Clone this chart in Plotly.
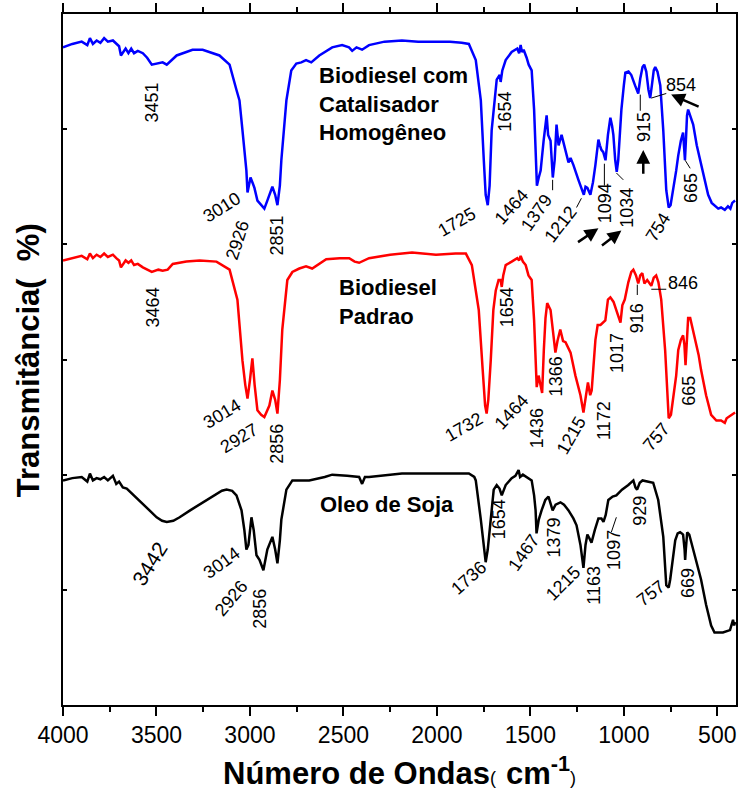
import plotly.graph_objects as go

# ---------------- data (wavenumber cm-1, transmittance in arbitrary offset units) ----------------
blue_x = [4000, 3950, 3900, 3870, 3856, 3840, 3820, 3800, 3780, 3760, 3733, 3715, 3700, 3690, 3680, 3665, 3650, 3635, 3620, 3600, 3573, 3550,
          3525, 3490, 3467, 3445, 3420, 3392, 3307, 3253, 3163, 3109, 3072, 3056, 3040, 3019, 3013, 3005, 2997,
          2985, 2976, 2960, 2940, 2923, 2907, 2880, 2865, 2853, 2840, 2832, 2805, 2779, 2752, 2725, 2700,
          2672, 2629, 2560, 2507, 2470, 2453, 2430, 2400, 2363, 2280, 2187, 2100, 2005, 1930, 1867, 1829,
          1792, 1765, 1749, 1739, 1728, 1718, 1707, 1690, 1680, 1664, 1659, 1650, 1632, 1600, 1570, 1560, 1552,
          1545, 1536, 1520, 1509, 1493, 1480, 1472, 1465, 1455, 1445, 1429, 1418, 1413, 1405, 1392, 1380,
          1370, 1360, 1349, 1333, 1320, 1312, 1296, 1285, 1270, 1243, 1225, 1214, 1205, 1195, 1179, 1165,
          1152, 1136, 1128, 1120, 1110, 1098, 1085, 1072, 1063, 1056, 1046, 1038, 1030, 1013, 1000, 992,
          975, 960, 940, 923, 912, 900, 891, 880, 868, 859, 850, 840, 832, 820, 805, 789, 773, 760, 750,
          736, 720, 709, 695, 683, 678, 673, 668, 662, 656, 645, 629, 610, 587, 565, 549, 530, 512, 495, 480,
          460, 443, 430, 420, 405]
blue_y = [5.71, 5.74, 5.76, 5.73, 5.79, 5.74, 5.77, 5.75, 5.79, 5.76, 5.77, 5.74, 5.72, 5.64, 5.66, 5.70, 5.66, 5.70, 5.66, 5.68, 5.66, 5.62,
          5.56, 5.57, 5.58, 5.56, 5.60, 5.64, 5.69, 5.69, 5.64, 5.56, 5.34, 5.25, 4.99, 4.64, 4.45, 4.51, 4.58,
          4.53, 4.49, 4.38, 4.34, 4.31, 4.38, 4.50, 4.43, 4.34, 4.51, 4.73, 5.25, 5.51, 5.57, 5.58, 5.60,
          5.58, 5.64, 5.71, 5.73, 5.71, 5.68, 5.71, 5.69, 5.73, 5.76, 5.77, 5.76, 5.76, 5.76, 5.75, 5.74,
          5.60, 5.25, 4.73, 4.43, 4.34, 4.51, 4.99, 5.29, 5.43, 5.47, 5.41, 5.51, 5.60, 5.67, 5.70, 5.66, 5.73,
          5.67, 5.69, 5.62, 5.56, 5.51, 5.17, 4.82, 4.51, 4.58, 4.64, 4.90, 5.09, 5.12, 4.95, 4.90, 4.58,
          4.73, 5.04, 4.86, 4.95, 4.86, 4.82, 4.71, 4.75, 4.69, 4.56, 4.47, 4.43, 4.50, 4.49, 4.43, 4.54,
          4.69, 4.91, 4.86, 4.82, 4.80, 4.73, 4.95, 5.10, 5.03, 4.95, 4.73, 4.63, 4.73, 5.17, 5.38, 5.49,
          5.50, 5.47, 5.38, 5.31, 5.44, 5.54, 5.56, 5.50, 5.34, 5.27, 5.38, 5.51, 5.54, 5.50, 5.38, 4.99, 4.47, 4.32, 4.34,
          4.47, 4.64, 4.77, 4.90, 4.97, 4.86, 4.73, 4.90, 5.12, 5.17, 5.12, 5.04, 4.86, 4.69, 4.54, 4.43, 4.36, 4.33, 4.31, 4.32,
          4.30, 4.33, 4.31, 4.36, 4.38]

red_x = [4000, 3950, 3900, 3870, 3856, 3840, 3820, 3800, 3780, 3760, 3733, 3715, 3700, 3690, 3680, 3665, 3650, 3635, 3620, 3600, 3573, 3550,
         3525, 3490, 3467, 3440, 3413, 3340, 3269, 3179, 3109, 3067, 3040, 3025, 3013, 3000, 2987, 2975, 2960,
         2940, 2923, 2896, 2880, 2865, 2853, 2840, 2827, 2800, 2773, 2736, 2700, 2667, 2592, 2520, 2469, 2440,
         2416, 2363, 2250, 2133, 2005, 1900, 1845, 1813, 1776, 1755, 1742, 1734, 1725, 1712, 1698, 1685, 1670,
         1659, 1653, 1645, 1632, 1600, 1570, 1560, 1552, 1540, 1525, 1510, 1493, 1480, 1472, 1466, 1456, 1450, 1437,
         1428, 1419, 1410, 1403, 1392, 1380, 1366, 1355, 1340, 1325, 1312, 1285, 1259, 1232, 1216, 1205, 1192,
         1180, 1172, 1152, 1140, 1125, 1110, 1099, 1085, 1072, 1055, 1040, 1025, 1018, 1008, 995, 976, 960,
         949, 935, 923, 912, 901, 890, 875, 860, 853, 840, 827, 815, 800, 779, 768, 760, 748, 736, 720, 709,
         695, 683, 676, 670, 665, 656, 645, 630, 619, 600, 587, 560, 533, 505, 480, 460, 450, 420, 405]
red_y = [3.86, 3.88, 3.90, 3.87, 3.92, 3.88, 3.91, 3.89, 3.92, 3.89, 3.91, 3.88, 3.86, 3.80, 3.82, 3.86, 3.84, 3.86, 3.82, 3.83, 3.80, 3.78,
         3.76, 3.78, 3.77, 3.78, 3.83, 3.85, 3.86, 3.85, 3.78, 3.52, 2.99, 2.78, 2.66, 2.82, 3.01, 2.78, 2.56,
         2.52, 2.50, 2.60, 2.73, 2.65, 2.53, 2.82, 3.26, 3.69, 3.76, 3.79, 3.81, 3.79, 3.87, 3.88, 3.88, 3.85,
         3.84, 3.88, 3.91, 3.93, 3.91, 3.92, 3.92, 3.82, 3.43, 2.91, 2.60, 2.53, 2.65, 2.99, 3.43, 3.60, 3.69,
         3.69, 3.63, 3.73, 3.82, 3.85, 3.88, 3.86, 3.90, 3.85, 3.82, 3.73, 3.69, 3.34, 3.08, 2.76, 2.86, 2.82, 2.71,
         3.08, 3.36, 3.49, 3.47, 3.43, 3.26, 3.06, 3.16, 3.26, 3.16, 3.15, 3.06, 2.86, 2.69, 2.54, 2.66, 2.80,
         2.69, 2.73, 3.17, 3.30, 3.30, 3.32, 3.34, 3.52, 3.54, 3.50, 3.43, 3.36, 3.32, 3.47, 3.52, 3.67, 3.76,
         3.78, 3.73, 3.66, 3.73, 3.75, 3.66, 3.69, 3.66, 3.64, 3.71, 3.73, 3.67, 3.52, 3.08, 2.69, 2.49, 2.52, 2.65, 2.86, 3.08,
         3.17, 3.21, 3.13, 2.95, 3.13, 3.36, 3.36, 3.26, 3.17, 3.04, 2.91, 2.69, 2.52, 2.47, 2.47, 2.45, 2.49, 2.52, 2.54]

black_x = [4000, 3950, 3900, 3870, 3856, 3840, 3820, 3800, 3780, 3760, 3733, 3715, 3700, 3680, 3659, 3640, 3620, 3600, 3573, 3530, 3499, 3470,
           3445, 3410, 3376, 3320, 3269, 3200, 3150, 3125, 3095, 3072, 3045, 3030, 3019, 3008, 2992, 2980,
           2965, 2949, 2928, 2907, 2880, 2865, 2853, 2840, 2832, 2805, 2773, 2740, 2683, 2600, 2560, 2480,
           2416, 2400, 2385, 2363, 2187, 2000, 1829, 1800, 1792, 1765, 1750, 1739, 1728, 1717, 1706, 1696,
           1680, 1665, 1653, 1632, 1600, 1580, 1563, 1555, 1540, 1509, 1493, 1480, 1472, 1467, 1455, 1440, 1420,
           1403, 1390, 1381, 1365, 1339, 1320, 1296, 1270, 1253, 1232, 1216, 1205, 1195, 1185, 1173, 1155,
           1136, 1120, 1109, 1097, 1083, 1060, 1040, 1010, 976, 949, 938, 929, 915, 900, 870, 843, 816, 800,
           789, 773, 760, 752, 740, 725, 712, 699, 690, 683, 675, 672, 668, 661, 650, 629, 610, 587, 560,
           533, 515, 496, 470, 432, 416, 410, 405]
black_y = [1.95, 1.97, 1.98, 1.94, 2.01, 1.95, 1.97, 1.96, 1.98, 1.95, 1.99, 1.92, 1.94, 1.89, 1.88, 1.85, 1.82, 1.79, 1.75, 1.68, 1.63, 1.60,
           1.59, 1.60, 1.63, 1.69, 1.74, 1.81, 1.86, 1.87, 1.86, 1.82, 1.69, 1.52, 1.35, 1.39, 1.63, 1.52,
           1.30, 1.26, 1.17, 1.35, 1.46, 1.35, 1.23, 1.43, 1.61, 1.87, 1.95, 1.95, 1.95, 1.98, 2.00, 1.99,
           1.98, 1.92, 1.98, 1.98, 2.01, 2.01, 2.01, 1.98, 1.95, 1.61, 1.39, 1.24, 1.35, 1.52, 1.74, 1.87,
           1.91, 1.88, 1.82, 1.91, 1.97, 1.99, 2.04, 1.98, 2.00, 1.97, 1.95, 1.82, 1.69, 1.49, 1.61, 1.69, 1.78,
           1.81, 1.75, 1.69, 1.74, 1.76, 1.74, 1.69, 1.62, 1.56, 1.39, 1.19, 1.39, 1.48, 1.45, 1.41, 1.52,
           1.62, 1.62, 1.59, 1.65, 1.78, 1.81, 1.82, 1.87, 1.91, 1.95, 1.89, 1.87, 1.93, 1.95, 1.94, 1.93, 1.78, 1.61,
           1.46, 1.04, 1.02, 1.09, 1.24, 1.43, 1.49, 1.50, 1.49, 1.48, 1.35, 1.26, 1.36, 1.50, 1.48, 1.35, 1.22, 1.09, 0.87,
           0.69, 0.63, 0.63, 0.63, 0.65, 0.74, 0.69, 0.72]

# peak labels: (text, wavenumber, y, angle)
blue_labels = [("3451", 3525, 5.23, -90), ("3010", 3147, 4.32, -32), ("2926", 3067, 4.04, -72),
               ("2851", 2853, 4.08, -90), ("1654", 1637, 5.15, -90), ("1725", 1893, 4.19, -30),
               ("1464", 1600, 4.32, -48), ("1379", 1467, 4.27, -55), ("1212", 1339, 4.18, -52),
               ("1094", 1104, 4.36, -90), ("1034", 981, 4.32, -90), ("754", 816, 4.15, -58),
               ("915", 891, 5.02, -90), ("854", 693, 5.38, 0), ("665", 640, 4.49, -90)]
red_labels = [("3464", 3520, 3.45, -90), ("3014", 3152, 2.53, -31), ("2927", 3056, 2.32, -31),
              ("2856", 2859, 2.27, -90), ("1654", 1627, 3.45, -90), ("1732", 1856, 2.41, -30),
              ("1464", 1600, 2.54, -47), ("1436", 1467, 2.40, -90), ("1366", 1365, 2.85, -90),
              ("1215", 1285, 2.34, -60), ("1172", 1109, 2.47, -90), ("1017", 1040, 3.06, -90),
              ("916", 928, 3.36, -90), ("846", 683, 3.66, 0), ("757", 827, 2.33, -50),
              ("665", 651, 2.73, -90)]
black_labels = [("3014", 3152, 1.23, -36), ("2926", 3099, 0.93, -50), ("2856", 2944, 0.84, -90),
                ("1654", 1669, 1.61, -90), ("1736", 1829, 1.10, -42), ("1467", 1536, 1.32, -55),
                ("1379", 1376, 1.45, -90), ("1215", 1323, 1.06, -45), ("1163", 1157, 1.04, -90),
                ("1097", 1056, 1.35, -90), ("929", 912, 1.69, -90), ("757", 853, 0.97, -38),
                ("669", 656, 1.06, -90)]
big_label = ("3442", 3536, 1.23, -58)

# leader lines: (x0, y0, x1, y1)
leaders = [(1381, 4.56, 1381, 4.47), (1227, 4.40, 1253, 4.32), (1104, 4.70, 1104, 4.51),
           (1040, 4.62, 1003, 4.56), (912, 5.30, 912, 5.16), (853, 5.27, 773, 5.31),
           (672, 4.73, 645, 4.66), (928, 3.65, 928, 3.56), (853, 3.61, 773, 3.61),
           (1067, 1.50, 1040, 1.63)]
# arrows: (tail x, tail y, head x, head y)
arrows = [(1253, 4.01, 1136, 4.14), (1125, 3.98, 1013, 4.12), (896, 4.60, 896, 4.82),
          (592, 5.19, 747, 5.30)]

series_names = ["Biodiesel com Catalisador Homogêneo", "Biodiesel Padrao", "Oleo de Soja"]
series_text = ["Biodiesel com<br>Catalisador<br>Homogêneo", "Biodiesel<br>Padrao", "Oleo de Soja"]
series_text_pos = [(2640, 5.22), (2533, 3.50), (2635, 1.74)]
colors = ["#0000FF", "#FF0000", "#000000"]

fig = go.Figure()
for xs, ys, name, col in zip([blue_x, red_x, black_x], [blue_y, red_y, black_y], series_names, colors):
    fig.add_trace(go.Scatter(x=xs, y=ys, mode="lines", name=name,
                             line=dict(color=col, width=2.5), showlegend=False))

FONT = "Liberation Sans, Arial, sans-serif"
ann = []
for labels in (blue_labels, red_labels, black_labels):
    for t, x, y, a in labels:
        ann.append(dict(x=x, y=y, xref="x", yref="y", text=t, showarrow=False, textangle=a,
                        xanchor="center", yanchor="middle",
                        font=dict(family=FONT, size=18, color="black")))
t, x, y, a = big_label
ann.append(dict(x=x, y=y, xref="x", yref="y", text=t, showarrow=False, textangle=a,
                xanchor="center", yanchor="middle",
                font=dict(family=FONT, size=21, color="black")))
for txt, (x, y) in zip(series_text, series_text_pos):
    ann.append(dict(x=x, y=y, xref="x", yref="y", text="<b>" + txt + "</b>", showarrow=False,
                    xanchor="left", yanchor="middle", align="left",
                    font=dict(family=FONT, size=22, color="black")))
for tx, ty, hx, hy in arrows:
    ann.append(dict(x=hx, y=hy, ax=tx, ay=ty, xref="x", yref="y", axref="x", ayref="y", text="",
                    showarrow=True, arrowhead=2, arrowsize=1.1, arrowwidth=2.5, arrowcolor="black",
                    standoff=0, startstandoff=0))
# axis titles
ann.append(dict(x=0.5, y=-0.096, xref="paper", yref="paper", showarrow=False,
                xanchor="center", yanchor="middle",
                text="<b>Número de Ondas</b><span style='font-size:18px'>(&nbsp; </span><b>cm<sup>-1</sup></b><span style='font-size:18px'>)</span>",
                font=dict(family=FONT, size=31, color="black")))
ann.append(dict(x=-0.052, y=0.499, xref="paper", yref="paper", showarrow=False, textangle=-90,
                xanchor="center", yanchor="middle",
                text="<b>Transmitância(  %)</b>", font=dict(family=FONT, size=31, color="black")))

shapes = [dict(type="line", xref="x", yref="y", x0=a, y0=b, x1=c, y1=d,
               line=dict(color="black", width=1)) for a, b, c, d in leaders]

fig.update_layout(
    width=740, height=794,
    margin=dict(l=63, r=2, t=14, b=89),
    paper_bgcolor="white", plot_bgcolor="white",
    annotations=ann, shapes=shapes,
    font=dict(family=FONT, color="black"),
)
fig.update_xaxes(range=[4000, 400], tickvals=[4000, 3500, 3000, 2500, 2000, 1500, 1000, 500],
                 ticks="outside", ticklen=9, tickwidth=1.5, tickcolor="black",
                 minor=dict(tickvals=[3750, 3250, 2750, 2250, 1750, 1250, 750], ticks="outside",
                            ticklen=5, tickwidth=1.5, tickcolor="black"),
                 showline=True, linecolor="black", linewidth=1.5, mirror="ticks",
                 showgrid=False, zeroline=False, tickfont=dict(family=FONT, size=23, color="black"))
fig.update_yaxes(range=[0, 6], tickvals=[0, 1, 2, 3, 4, 5, 6], showticklabels=False,
                 ticks="inside", ticklen=4, tickwidth=1.5, tickcolor="black",
                 showline=True, linecolor="black", linewidth=1.5, mirror="ticks",
                 showgrid=False, zeroline=False)

fig.write_html("out.html")
